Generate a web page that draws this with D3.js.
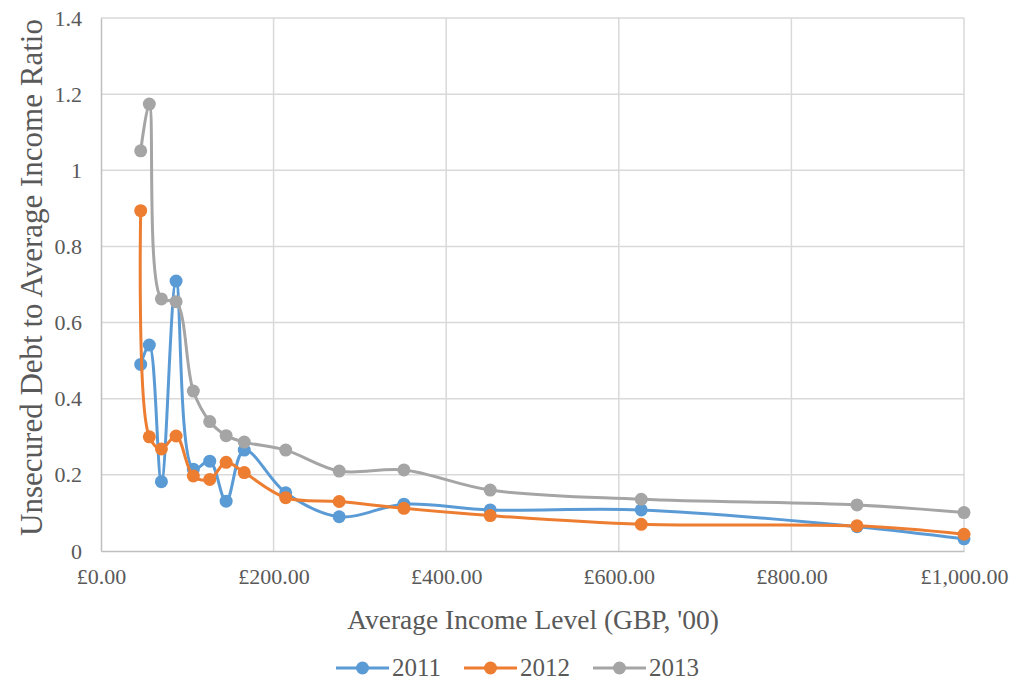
<!DOCTYPE html>
<html>
<head>
<meta charset="utf-8">
<script src="https://cdn.jsdelivr.net/npm/d3@7/dist/d3.min.js"></script>
<style>
  html, body { margin: 0; padding: 0; background: #fff; }
  svg { display: block; }
</style>
</head>
<body>
<svg id="chart" width="1021" height="680"></svg>
<script>
// Average income level (GBP, '00) for each band
const incomes = [46, 56, 70, 87, 107, 126, 145, 166, 214, 276, 351, 451, 626, 876, 1000];

// Unsecured debt to average income ratio per year
const ratio2011 = [0.490, 0.541, 0.182, 0.709, 0.215, 0.236, 0.131, 0.265, 0.153, 0.090, 0.123, 0.108, 0.108, 0.064, 0.032];
const ratio2012 = [0.894, 0.300, 0.268, 0.302, 0.197, 0.188, 0.233, 0.206, 0.140, 0.130, 0.112, 0.093, 0.070, 0.066, 0.044];
const ratio2013 = [1.051, 1.174, 0.662, 0.655, 0.420, 0.340, 0.303, 0.286, 0.265, 0.210, 0.213, 0.160, 0.136, 0.121, 0.101];

const seriesNames = ["2011", "2012", "2013"];
const seriesColors = ["#5B9BD5", "#ED7D31", "#A5A5A5"];

const xTicks = [0, 200, 400, 600, 800, 1000];
const yTicks = [0, 0.2, 0.4, 0.6, 0.8, 1, 1.2, 1.4];

const xTitle = "Average Income Level (GBP, '00)";
const yTitle = "Unsecured Debt to Average Income Ratio";

// Serif text styling for every label
const textStyle = size =>
  `font-family: 'Liberation Serif', 'Times New Roman', serif; font-size: ${size}px; fill: #595959;`;

const series = [ratio2011, ratio2012, ratio2013].map((vals, i) => ({
  name: seriesNames[i],
  color: seriesColors[i],
  points: incomes.map((x, j) => ({ x, y: vals[j] }))
}));

const svg = d3.select("#chart");
const margin = { left: 101, right: 57, top: 18, bottom: 129 };
const W = 1021, H = 680;

const x = d3.scaleLinear().domain([0, 1000]).range([margin.left, W - margin.right]);
const y = d3.scaleLinear().domain([0, 1.4]).range([H - margin.bottom, margin.top]);

const fmtGBP = d => "£" + d3.format(",.2f")(d);

// Grid lines
svg.append("g")
  .selectAll("line")
  .data(yTicks.filter(d => d > 0))
  .join("line")
  .attr("x1", x(0)).attr("x2", x(1000))
  .attr("y1", d => y(d)).attr("y2", d => y(d))
  .attr("stroke", "#D9D9D9").attr("stroke-width", 1.5);

svg.append("g")
  .selectAll("line")
  .data(xTicks.filter(d => d > 0))
  .join("line")
  .attr("x1", d => x(d)).attr("x2", d => x(d))
  .attr("y1", y(0)).attr("y2", y(1.4))
  .attr("stroke", "#D9D9D9").attr("stroke-width", 1.5);

// Axes
const xAxis = svg.append("g")
  .attr("transform", `translate(0,${y(0)})`)
  .call(d3.axisBottom(x).tickValues(xTicks).tickFormat(fmtGBP).tickSize(0).tickPadding(17));
const yAxis = svg.append("g")
  .attr("transform", `translate(${x(0)},0)`)
  .call(d3.axisLeft(y).tickValues(yTicks).tickFormat(d3.format("")).tickSize(0).tickPadding(19));

[xAxis, yAxis].forEach(g => {
  g.attr("font-family", null).attr("font-size", null);
  g.select(".domain").attr("stroke", "#BFBFBF").attr("stroke-width", 1.5);
  g.selectAll("text").attr("style", textStyle(22));
});

// Series lines and markers
const line = d3.line()
  .x(d => x(d.x))
  .y(d => y(d.y))
  .curve(d3.curveCatmullRom.alpha(0.5));

const gSeries = svg.append("g");
series.forEach(s => {
  gSeries.append("path")
    .datum(s.points)
    .attr("d", line)
    .attr("fill", "none")
    .attr("stroke", s.color)
    .attr("stroke-width", 3)
    .attr("stroke-linejoin", "round");
  gSeries.append("g")
    .selectAll("circle")
    .data(s.points)
    .join("circle")
    .attr("cx", d => x(d.x))
    .attr("cy", d => y(d.y))
    .attr("r", 6.5)
    .attr("fill", s.color);
});

// Axis titles
svg.append("text")
  .attr("x", 533)
  .attr("y", 629)
  .attr("text-anchor", "middle")
  .attr("style", textStyle(27.5))
  .text(xTitle);

svg.append("text")
  .attr("transform", `translate(42,${(20 + 535) / 2}) rotate(-90)`)
  .attr("text-anchor", "middle")
  .attr("style", textStyle(31))
  .text(yTitle);

// Legend
const legendX = [336, 464, 593];
const legend = svg.append("g");
series.forEach((s, i) => {
  const g = legend.append("g").attr("transform", `translate(${legendX[i]},668)`);
  g.append("line").attr("x1", 0).attr("x2", 53).attr("y1", 0).attr("y2", 0)
    .attr("stroke", s.color).attr("stroke-width", 3);
  g.append("circle").attr("cx", 26.5).attr("cy", 0).attr("r", 6.5).attr("fill", s.color);
  g.append("text").attr("x", 56).attr("y", 0).attr("dy", "0.33em")
    .attr("style", textStyle(25))
    .text(s.name);
});
</script>
</body>
</html>
